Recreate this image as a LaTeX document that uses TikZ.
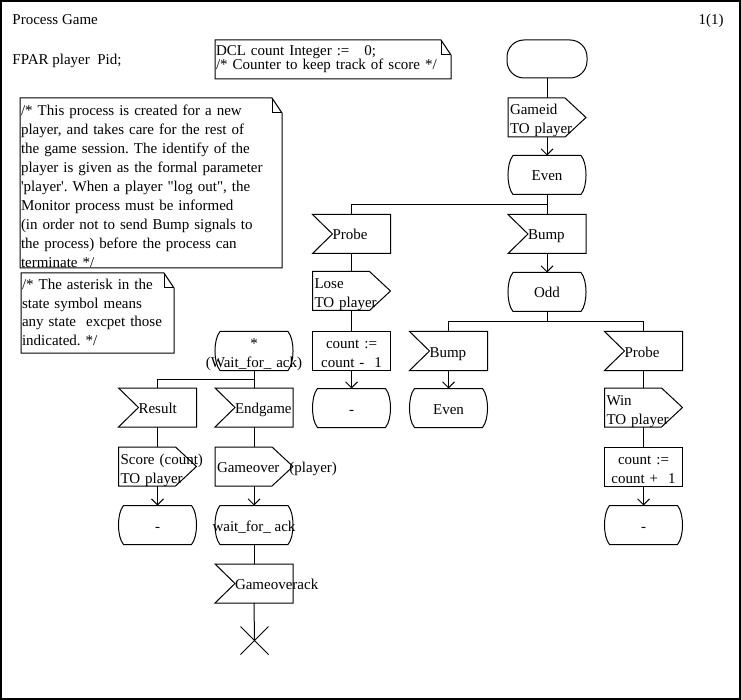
\documentclass[tikz,border=0pt]{standalone}
\usepackage{fontspec}
\setmainfont{Liberation Serif}[Ligatures=TeXOff]
\usetikzlibrary{arrows.meta}
\newcommand{\fs}{\fontsize{15}{19}\selectfont}
\newcommand{\ovr}[1]{\makebox[0pt]{#1}}
\begin{document}
\frenchspacing
\hyphenpenalty=10000
\exhyphenpenalty=10000
\begin{tikzpicture}[x=1pt, y=-1pt, line width=1pt,
  lineone/.style={text height=12pt, text depth=0pt},
  linetwo/.style={text height=0pt, text depth=5pt},
  sdl/.style={inner sep=0pt, outer sep=0pt, minimum width=78pt, minimum height=39pt, font=\fs, lineone},
  arr/.style={-{Straight Barb[length=6pt,width=12pt]}},
  startsym/.style={sdl, minimum width=80pt, minimum height=38pt, draw, rounded corners=17pt},
  insym/.style={sdl, text width=78pt, align=left, execute at begin node={\hspace*{20pt}},
    append after command={\pgfextra{\draw (\tikzlastnode.north west) -- (\tikzlastnode.north east) -- (\tikzlastnode.south east) -- (\tikzlastnode.south west) -- ([xshift=20pt]\tikzlastnode.west) -- cycle;}}},
  outsym/.style={sdl, text width=74pt, inner xsep=2pt, align=left,
    append after command={\pgfextra{\draw (\tikzlastnode.north west) -- ([xshift=-21pt]\tikzlastnode.north east) -- (\tikzlastnode.east) -- ([xshift=-21pt]\tikzlastnode.south east) -- (\tikzlastnode.south west) -- cycle;}}},
  tasksym/.style={sdl, draw, text width=78pt, align=center, linetwo},
  statesym/.style={sdl,
    append after command={\pgfextra{\draw ([xshift=5pt]\tikzlastnode.north west) -- ([xshift=-5pt]\tikzlastnode.north east) .. controls ([xshift=1.7pt,yshift=-8pt]\tikzlastnode.north east) and ([xshift=1.7pt,yshift=8pt]\tikzlastnode.south east) .. ([xshift=-5pt]\tikzlastnode.south east) -- ([xshift=5pt]\tikzlastnode.south west) .. controls ([xshift=-1.7pt,yshift=8pt]\tikzlastnode.south west) and ([xshift=-1.7pt,yshift=-8pt]\tikzlastnode.north west) .. cycle;}}},
  cmtsym/.style={inner ysep=0pt, inner xsep=1pt, outer sep=0pt, align=left, text height=0pt,
    append after command={\pgfextra{\draw (\tikzlastnode.north west) -- ([xshift=-10pt]\tikzlastnode.north east) -- ([yshift=-15pt]\tikzlastnode.north east) -- (\tikzlastnode.south east) -- (\tikzlastnode.south west) -- cycle;
      \draw ([xshift=-10pt]\tikzlastnode.north east) -- ([xshift=-10pt,yshift=-15pt]\tikzlastnode.north east) -- ([yshift=-15pt]\tikzlastnode.north east);}}},
  stopsym/.style={inner sep=0pt, minimum width=27pt, minimum height=27pt,
    append after command={\pgfextra{\draw (\tikzlastnode.north west) -- (\tikzlastnode.south east); \draw (\tikzlastnode.north east) -- (\tikzlastnode.south west);}}},
  plaintext/.style={inner sep=0pt, font=\fs}
]
\useasboundingbox (0,0) rectangle (741,700);
\draw[line width=2pt] (1,1) rectangle (740,699);

% header texts
\node[plaintext, anchor=base west] (title) at (12,25) {Process Game};
\node[plaintext, anchor=base east] (page) at (724,25) {1(1)};
\node[plaintext, anchor=base west] (fpar) at (12,65) {FPAR player\ \ Pid;};

% comments
\node[cmtsym, text width=234pt, minimum height=39pt, text depth=7pt, font=\fontsize{15}{14}\selectfont] (dcl) at (333,59.5)
  {DCL count Integer :=\quad 0;\\/* Counter to keep track of score */};
\node[cmtsym, text width=260pt, minimum height=170pt, text depth=135pt, font=\fs] (note1) at (151,183)
  {/* This process is created for a new\\player, and takes care for the rest of\\the game session. The identify of the\\player is given as the formal parameter\\'player'. When a player "log out", the\\Monitor process must be informed\\(in order not to send Bump signals to\\the process) before the process can\\terminate */};
\node[cmtsym, text width=151pt, minimum height=80pt, text depth=46pt, font=\fontsize{15}{18.5}\selectfont] (note2) at (97.5,313)
  {/* The asterisk in the\\state symbol means\\any state\ \ excpet those\\indicated. */};

% main column
\node[startsym] (start) at (547,59) {};
\node[outsym, linetwo] (gameid) at (547,117.5) {Gameid\\TO player};
\node[statesym] (even) at (547,175) {Even};
\node[insym] (bumpA) at (547,234) {Bump};
\node[statesym] (odd) at (547,292) {Odd};

% probe branch
\node[insym] (probeL) at (351.5,234) {Probe};
\node[outsym, linetwo] (lose) at (351.5,291) {Lose\\TO player};
\node[tasksym] (cminus) at (351.5,351) {count :=\\count -\ \ 1};
\node[statesym] (dashM) at (351.5,408) {-};

% odd branches
\node[insym] (bumpB) at (448.5,351) {Bump};
\node[statesym] (evenB) at (448.5,408) {Even};
\node[insym] (probeR) at (643.5,351) {Probe};
\node[outsym, linetwo] (win) at (643.5,407.5) {Win\\TO player};
\node[tasksym] (cplus) at (643.5,466.5) {count :=\\count +\ \ 1};
\node[statesym] (dashR) at (643.5,525) {-};

% asterisk state
\node[statesym, linetwo, text width=78pt, align=center] (wait) at (254,351) {*\\\ovr{(Wait\_for\_ ack)}};
\node[insym] (endgame) at (254,407.5) {Endgame};
\node[outsym] (gameover) at (254,466.5) {Gameover~~(player)};
\node[statesym] (waitack) at (254,525) {\ovr{wait\_for\_ ack}};
\node[insym] (gameoverack) at (254,583.5) {\mbox{Gameoverack}};
\node[stopsym] (stop) at (254.5,640.5) {};
\node[insym] (result) at (157.5,407.5) {Result};
\node[outsym, linetwo] (score) at (157.5,466.5) {Score~(count)\\TO player};
\node[statesym] (dashL) at (157.5,525) {-};

% connectors
\draw (start.south) -- (gameid.north);
\draw[arr] (gameid.south) -- (even.north);
\draw (even.south) -- (bumpA.north);
\draw (even.south) -- ++(0,10) -| (probeL.north);
\draw[arr] (bumpA.south) -- (odd.north);
\draw (probeL.south) -- (lose.north);
\draw (lose.south) -- (cminus.north);
\draw[arr] (cminus.south) -- (dashM.north);
\draw (odd.south) -- ++(0,10) -| (bumpB.north);
\draw (odd.south) -- ++(0,10) -| (probeR.north);
\draw[arr] (bumpB.south) -- (evenB.north);
\draw (probeR.south) -- (win.north);
\draw (win.south) -- (cplus.north);
\draw[arr] (cplus.south) -- (dashR.north);
\draw (wait.south) -- (endgame.north);
\draw (wait.south) -- ++(0,9) -| (result.north);
\draw (endgame.south) -- (gameover.north);
\draw[arr] (gameover.south) -- (waitack.north);
\draw (waitack.south) -- (gameoverack.north);
\draw (gameoverack.south) -- (stop.center);
\draw (result.south) -- (score.north);
\draw[arr] (score.south) -- (dashL.north);
\end{tikzpicture}
\end{document}
